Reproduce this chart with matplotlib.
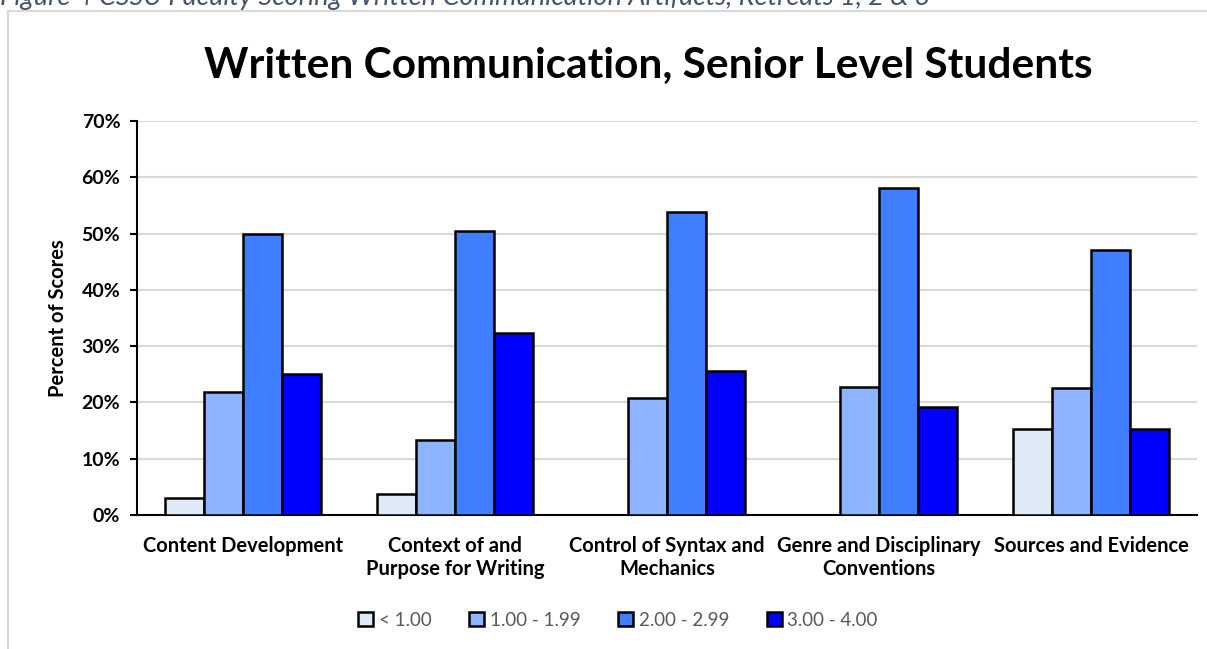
import numpy as np
import matplotlib
matplotlib.use("Agg")
import matplotlib.pyplot as plt
from matplotlib.patches import Rectangle
from matplotlib.ticker import PercentFormatter

# rubric criteria and score bands
criteria = ["Content Development", "Context of and\nPurpose for Writing",
            "Control of Syntax and\nMechanics", "Genre and Disciplinary\nConventions",
            "Sources and Evidence"]
bands = ["< 1.00", "1.00 - 1.99", "2.00 - 2.99", "3.00 - 4.00"]

# percent of scores in each band
below_1 = [3.1, 3.7, 0.0, 0.0, 15.2]
band_1 = [21.9, 13.4, 20.7, 22.7, 22.5]
band_2 = [50.0, 50.5, 53.8, 58.1, 47.0]
band_3 = [25.0, 32.4, 25.6, 19.1, 15.2]

colors = ["#DEEBF7", "#8FB4FF", "#3F7FFF", "#0000FF"]

plt.rcParams['font.family'] = ['Lato', 'DejaVu Sans']

fig = plt.figure(figsize=(12.07, 6.49), dpi=100)

# chart frame and the caption above it
frame = Rectangle((8 / 1207, -0.1), 1.2, 1 - 11 / 649 + 0.1,
                  transform=fig.transFigure, facecolor="white",
                  edgecolor="#D9D9D9", linewidth=1.5, zorder=-10)
fig.patches.append(frame)
fig.text(0.0, 1 - 5 / 649, "Figure 4 CSSU Faculty Scoring Written Communication Artifacts, Retreats 1, 2 & 3",
         fontsize=19.5, style="italic", color="#44546A", ha="left", va="baseline")

ax = fig.add_axes([137 / 1207, (649 - 515) / 649, (1197 - 137) / 1207, (515 - 121) / 649])
ax.set_facecolor("none")

x = np.arange(len(criteria))
w = 0.183
series = [below_1, band_1, band_2, band_3]
for i, (vals, c, lab) in enumerate(zip(series, colors, bands)):
    ax.bar(x + (i - 1.5) * w, vals, w, color=c, edgecolor="black",
           linewidth=1.8, label=lab, zorder=3)

ax.set_xlim(-0.5, len(criteria) - 0.5)
ax.set_ylim(0, 70)
ax.set_yticks(range(0, 71, 10))
ax.yaxis.set_major_formatter(PercentFormatter(decimals=0))
ax.grid(axis="y", color="#D9D9D9", linewidth=1.5, zorder=0)
ax.set_axisbelow(True)

for s in ["top", "right"]:
    ax.spines[s].set_visible(False)
for s in ["left", "bottom"]:
    ax.spines[s].set_linewidth(1.5)

ax.tick_params(axis="y", length=5, width=1.5, labelsize=14, pad=7)
ax.tick_params(axis="x", length=0, labelsize=14.5, pad=15)
ax.set_xticks(x)
ax.set_xticklabels(criteria, fontweight="bold")
for t in ax.get_yticklabels():
    t.set_fontweight("bold")

ax.set_ylabel("Percent of Scores", fontsize=14.5, fontweight="bold", labelpad=10)

fig.text(0.537, 1 - 66 / 649, "Written Communication, Senior Level Students",
         fontsize=30.5, fontweight="bold", ha="center", va="center")

fig.legend(loc="center", bbox_to_anchor=(0.512, 1 - 620 / 649), ncol=4, frameon=False,
           fontsize=13.5, labelcolor="#595959", handlelength=0.8, handleheight=0.8,
           handletextpad=0.3, columnspacing=2.0)

fig.savefig("out.png", dpi=100)
